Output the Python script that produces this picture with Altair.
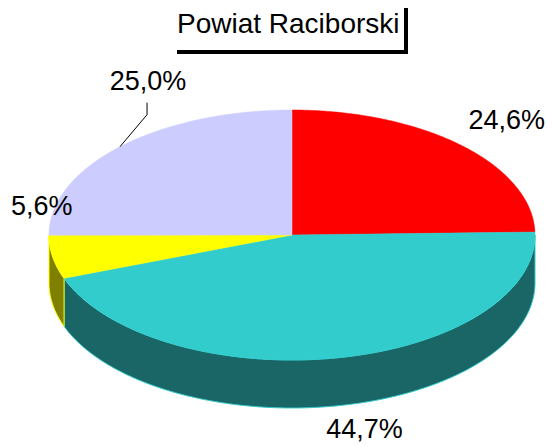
import math
import altair as alt
import pandas as pd

labels = ["24,6%", "44,7%", "5,6%", "25,0%"]
shares = [24.6, 44.7, 5.6, 25.0]
top_colors = ["#FF0000", "#33CCCC", "#FFFF00", "#CCCCFF"]
side_colors = [None, "#1A6666", "#808000", None]
rim_colors = [None, "#33CCCC", "#FFFF00", None]
title_text = "Powiat Raciborski"

CX, CY, RX, RY, DEPTH = 292, 235, 243, 125, 48
W, H = 537, 436
xs = alt.Scale(domain=[8, 8 + W], range=[0, W], nice=False, zero=False)
ys = alt.Scale(domain=[8, 8 + H], range=[0, H], nice=False, zero=False)
X = lambda f="x": alt.X(f + ":Q", scale=xs, axis=None)
Y = lambda f="y": alt.Y(f + ":Q", scale=ys, axis=None)

def pt(deg, drop=0):
    r = math.radians(deg)
    return CX + RX * math.sin(r), CY - RY * math.cos(r) + drop

total = sum(shares)
edges = [0]
for s in shares:
    edges.append(edges[-1] + 360 * s / total)

def arc(a, b, drop=0):
    n = max(2, int(abs(b - a) * 2))
    return [pt(a + (b - a) * i / n, drop) for i in range(n + 1)]

def poly(points, fill, stroke, sw):
    df = pd.DataFrame(points, columns=["x", "y"])
    df["i"] = range(len(df))
    return alt.Chart(df).mark_line(
        fill=fill, stroke=stroke, strokeWidth=sw, interpolate="linear-closed"
    ).encode(x=X(), y=Y(), order="i:Q")

layers = []
# side walls (only the front half, below the horizontal)
for i in range(len(shares)):
    if side_colors[i] is None:
        continue
    a, b = max(edges[i], 90), min(edges[i + 1], 270)
    layers.append(poly(arc(a, b) + arc(b, a, DEPTH), side_colors[i], rim_colors[i], 1))
# top faces
for i in range(len(shares)):
    layers.append(poly([(CX, CY)] + arc(edges[i], edges[i + 1]), top_colors[i], top_colors[i], 0.5))

# label placement relative to the slice's middle angle
label_off = [(45, -25), (27, 24), (-11, -50), (28, -65)]
rows = []
for i, lab in enumerate(labels):
    mid = (edges[i] + edges[i + 1]) / 2
    px, py = pt(mid, DEPTH if 90 < mid < 270 and i == 1 else 0)
    rows.append({"x": px + label_off[i][0], "y": py + label_off[i][1], "t": lab})
layers.append(
    alt.Chart(pd.DataFrame(rows)).mark_text(
        font="Liberation Sans", fontSize=27, color="#000000", baseline="middle", align="center"
    ).encode(x=X(), y=Y(), text="t:N")
)

# leader for the 25,0% label
mx, my = pt((edges[3] + edges[4]) / 2)
leader = pd.DataFrame({"x": [mx, mx + 27, mx + 27], "y": [my, my - 32, my - 44], "i": [0, 1, 2]})
layers.append(alt.Chart(leader).mark_line(color="#000000", strokeWidth=1).encode(x=X(), y=Y(), order="i:Q"))

# title and its shadow frame
layers.append(
    alt.Chart(pd.DataFrame({"x": [177], "y": [25], "t": [title_text]})).mark_text(
        font="Liberation Sans", fontSize=28, color="#000000", baseline="middle", align="left"
    ).encode(x=X(), y=Y(), text="t:N")
)
frame_h = pd.DataFrame({"x": [177], "x2": [408], "y": [52]})
frame_v = pd.DataFrame({"x": [406], "y": [8], "y2": [54]})
layers.append(alt.Chart(frame_h).mark_rule(color="#000000", strokeWidth=4).encode(x=X(), x2="x2:Q", y=Y()))
layers.append(alt.Chart(frame_v).mark_rule(color="#000000", strokeWidth=4).encode(x=X(), y=Y(), y2="y2:Q"))

chart = alt.layer(*layers).properties(
    width=W, height=H, padding=0, background="#FFFFFF",
    autosize=alt.AutoSizeParams(type="none")
).configure_view(stroke=None)
chart.save("out.html", embed_options={"renderer": "svg", "actions": False})
